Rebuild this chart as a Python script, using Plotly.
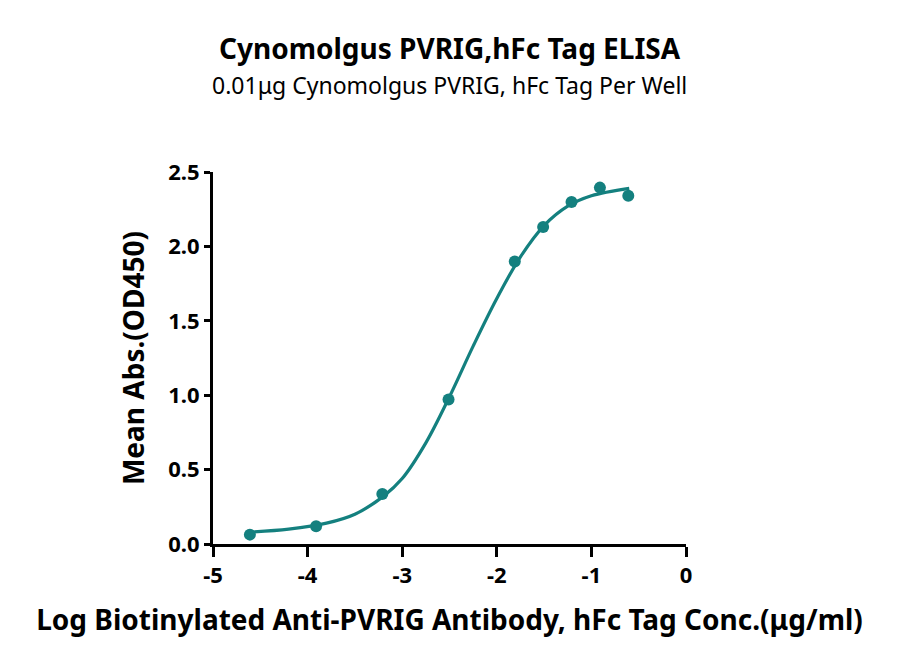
import plotly.graph_objects as go

# Measured points (log conc vs mean OD450)
log_conc = [-4.61, -3.91, -3.21, -2.51, -1.81, -1.51, -1.21, -0.91, -0.61]
mean_abs = [0.063, 0.119, 0.336, 0.971, 1.899, 2.130, 2.298, 2.395, 2.341]

# Fitted curve
fit_x = [-4.61, -4.2, -3.8, -3.5, -3.2, -3.0, -2.75, -2.5, -2.25, -2.0, -1.75, -1.5, -1.25, -1.0, -0.6]
fit_y = [0.08, 0.10, 0.14, 0.20, 0.32, 0.44, 0.68, 0.99, 1.33, 1.65, 1.93, 2.14, 2.27, 2.34, 2.39]

x_ticks = [-5, -4, -3, -2, -1, 0]
y_ticks = [0.0, 0.5, 1.0, 1.5, 2.0, 2.5]

teal = "#14807f"
font = "Noto Sans"

fig = go.Figure()

fig.add_trace(go.Scatter(
    x=fit_x, y=fit_y, mode="lines",
    line=dict(color=teal, width=3.2, shape="spline", smoothing=1.0),
    hoverinfo="skip"
))

fig.add_trace(go.Scatter(
    x=log_conc, y=mean_abs, mode="markers",
    marker=dict(color=teal, size=12)
))

# titles placed as annotations (page has an 8px body margin)
fig.add_annotation(text="<b>Cynomolgus PVRIG,hFc Tag ELISA</b>", xref="paper", yref="paper",
                   x=0.5, y=1, yshift=124, xanchor="center", yanchor="middle", showarrow=False,
                   font=dict(size=28, family=font, color="black"))
fig.add_annotation(text="0.01μg Cynomolgus PVRIG, hFc Tag Per Well", xref="paper", yref="paper",
                   x=0.5, y=1, yshift=87, xanchor="center", yanchor="middle", showarrow=False,
                   font=dict(size=23, family=font, color="black"))

fig.update_layout(
    width=900, height=668,
    showlegend=False,
    plot_bgcolor="white", paper_bgcolor="white",
    margin=dict(l=205, r=222, t=164, b=132),
    font=dict(family=font, color="black"),
    xaxis=dict(
        range=[-5, 0], tickvals=x_ticks, ticktext=[str(v) for v in x_ticks],
        showline=True, linecolor="black", linewidth=3,
        ticks="outside", ticklen=10, tickwidth=3, tickcolor="black",
        showgrid=False, zeroline=False,
        tickfont=dict(size=22, family=font, weight="bold"),
        title=dict(text="<b>Log Biotinylated Anti-PVRIG Antibody, hFc Tag Conc.(μg/ml)</b>",
                   font=dict(size=28, family=font), standoff=22)
    ),
    yaxis=dict(
        range=[0, 2.5], tickvals=y_ticks, ticktext=[f"{v:.1f}" for v in y_ticks],
        showline=True, linecolor="black", linewidth=3,
        ticks="outside", ticklen=6, tickwidth=3, tickcolor="black",
        showgrid=False, zeroline=False,
        tickfont=dict(size=22, family=font, weight="bold"),
        title=dict(text="<b>Mean Abs.(OD450)</b>", font=dict(size=28, family=font), standoff=16)
    ),
)

fig.write_html("out.html")
